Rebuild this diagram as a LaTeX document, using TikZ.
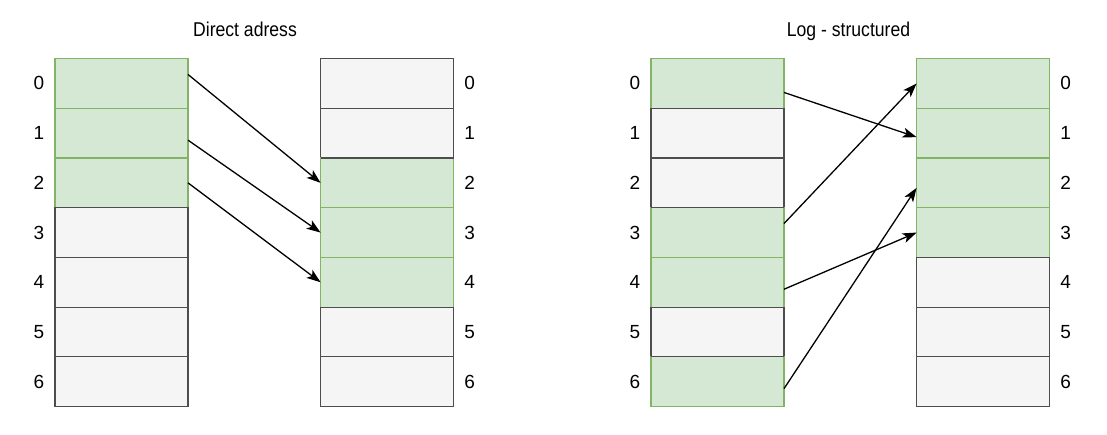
\documentclass[tikz,border=0pt]{standalone}
\usepackage{fontspec}
\setmainfont{Liberation Sans}
\newfontfamily\titlefont[FakeStretch=0.88]{Liberation Sans}
\usetikzlibrary{matrix,arrows.meta}
\definecolor{usedfill}{HTML}{D5E8D4}
\definecolor{useddraw}{HTML}{82B366}
\definecolor{freefill}{HTML}{F5F5F5}
\definecolor{freedraw}{HTML}{4D4D4D}

\begin{document}
\begin{tikzpicture}[x=1pt,y=-1pt,
    cell/.style={minimum width=133pt,minimum height=49.7pt,inner sep=0pt,
        outer sep=0pt,line width=1.2pt},
    used/.style={cell,fill=usedfill,draw=useddraw},
    free/.style={cell,fill=freefill,draw=freedraw},
    mem/.style={matrix of nodes,nodes in empty cells,anchor=north west,
        inner sep=0pt,outer sep=0pt,column sep=-0.6pt,row sep=-1.2pt,
        nodes={anchor=center,minimum width=32pt,minimum height=49.7pt,
            inner sep=0pt,outer sep=0pt,font=\fontsize{19}{19}\selectfont}},
    title/.style={anchor=base,font=\titlefont\fontsize{20}{20}\selectfont},
    link/.style={-{Stealth[length=14pt,width=10pt,inset=3.5pt]},line width=1.3pt}]
    \useasboundingbox[fill=white] (0,0) rectangle (1107,434);

    \node[title] (t1) at (245,36) {Direct adress};
    \node[title] (t2) at (848.5,36) {Log - structured};

    \matrix (a) [mem] at (23,58) {
        0 & |[used]| \\
        1 & |[used]| \\
        2 & |[used]| \\
        3 & |[free]| \\
        4 & |[free]| \\
        5 & |[free]| \\
        6 & |[free]| \\
    };
    \matrix (b) [mem] at (320,58) {
        |[free]| & 0 \\
        |[free]| & 1 \\
        |[used]| & 2 \\
        |[used]| & 3 \\
        |[used]| & 4 \\
        |[free]| & 5 \\
        |[free]| & 6 \\
    };
    \matrix (c) [mem] at (619,58) {
        0 & |[used]| \\
        1 & |[free]| \\
        2 & |[free]| \\
        3 & |[used]| \\
        4 & |[used]| \\
        5 & |[free]| \\
        6 & |[used]| \\
    };
    \matrix (d) [mem] at (916,58) {
        |[used]| & 0 \\
        |[used]| & 1 \\
        |[used]| & 2 \\
        |[used]| & 3 \\
        |[free]| & 4 \\
        |[free]| & 5 \\
        |[free]| & 6 \\
    };

    %% dark edge where a used cell follows a free one
    \draw[freedraw,line width=1.2pt] (b-3-1.north west) -- (b-3-1.north east);
    \draw[freedraw,line width=1.2pt] (c-4-2.north west) -- (c-4-2.north east);
    \draw[freedraw,line width=1.2pt] (c-7-2.north west) -- (c-7-2.north east);

    \draw[link] ([yshift=9pt]a-1-2.east) -- (b-3-1.west);
    \draw[link] ([yshift=-7pt]a-2-2.east) -- (b-4-1.west);
    \draw[link] (a-3-2.east) -- (b-5-1.west);

    \draw[link] ([yshift=-9pt]c-1-2.east) -- ([yshift=-4pt]d-2-1.west);
    \draw[link] ([yshift=9pt]c-4-2.east) -- (d-1-1.west);
    \draw[link] ([yshift=-7pt]c-5-2.east) -- (d-4-1.west);
    \draw[link] ([yshift=-7pt]c-7-2.east) -- ([yshift=-5pt]d-3-1.west);

\end{tikzpicture}
\end{document}
